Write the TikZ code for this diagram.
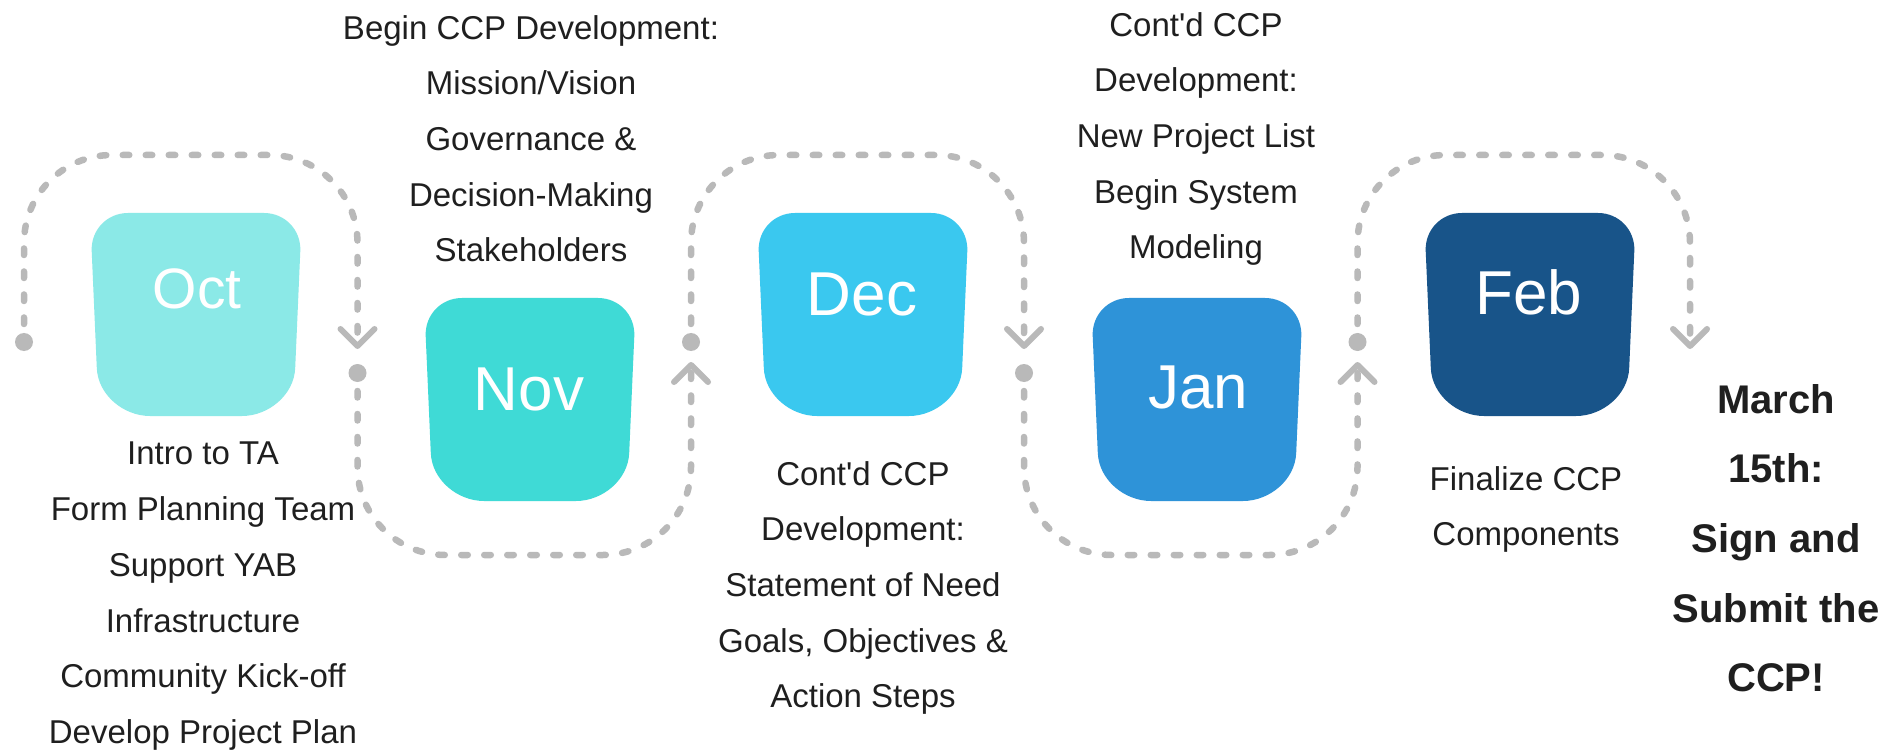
\documentclass[tikz,border=0pt]{standalone}
\usepackage{fontspec}
\setmainfont{Liberation Sans}
% same face without the TeX quote mapping, for a straight apostrophe
\newfontfamily\rawfont{Liberation Sans}
\usetikzlibrary{calc}

\definecolor{octc}{HTML}{8BE9E7}
\definecolor{novc}{HTML}{3FDAD6}
\definecolor{decc}{HTML}{3AC8EF}
\definecolor{janc}{HTML}{2E93D8}
\definecolor{febc}{HTML}{185489}
\definecolor{trailc}{HTML}{B9B9B9}
\definecolor{inkc}{HTML}{1F1F1F}

% straight apostrophe
\newcommand\sq{{\rawfont\symbol{39}}}

% tapered tile with rounded corners: #1 centre x, #2 top y, #3 colour
\newcommand\monthtile[3]{%
  \fill[#3] ({#1-104.3},{#2+38})
    .. controls ({#1-105.2},{#2+17}) and ({#1-89},{#2}) .. ({#1-68},{#2})
    -- ({#1+68},{#2})
    .. controls ({#1+89},{#2}) and ({#1+105.2},{#2+17}) .. ({#1+104.3},{#2+38})
    -- ({#1+99.2},{#2+155})
    .. controls ({#1+98.1},{#2+182}) and ({#1+72.4},{#2+203}) .. ({#1+46},{#2+203})
    -- ({#1-46},{#2+203})
    .. controls ({#1-72.4},{#2+203}) and ({#1-98.1},{#2+182}) .. ({#1-99.2},{#2+155})
    -- cycle;}

\tikzset{
  trail/.style={draw=trailc, line width=6.5pt, line cap=round,
    dash pattern=on 6.5pt off 16.5pt, rounded corners=88pt},
  chev/.style={draw=trailc, line width=6pt, line cap=round, line join=round},
  knob/.style={fill=trailc},
  mlabel/.style={text=white, inner sep=0pt},
  desc/.style={text=inkc, align=center, inner sep=0pt, anchor=north,
    font=\fontsize{33}{55.7}\selectfont},
  finale/.style={text=inkc, align=center, inner sep=0pt, anchor=north,
    font=\fontsize{40}{69.7}\selectfont\bfseries},
}

\begin{document}
\begin{tikzpicture}[x=1pt, y=-1pt]
\fill[white] (0,0) rectangle (1893,751);
\useasboundingbox (0,0) rectangle (1893,751);

% levels of the winding trail
\coordinate (top) at (0,155);
\coordinate (bottom) at (0,555);

% start dots and arrow tips
\coordinate (s1) at (24,342);
\coordinate (e1) at (357.5,346);
\coordinate (s2) at (357.5,373);
\coordinate (e2) at (691,365);
\coordinate (s3) at (691,342);
\coordinate (e3) at (1024,346);
\coordinate (s4) at (1024,373);
\coordinate (e4) at (1357.5,365);
\coordinate (s5) at (1357.5,342);
\coordinate (e5) at (1690,346);

% arches over the upper tiles
\foreach \s/\e in {s1/e1, s3/e3, s5/e5}{
  \draw[trail] ($(\s)+(0,-18)$) -- (\s |- top) -- (\e |- top) -- ($(\e)+(0,-8)$);
  \fill[knob] (\s) circle[radius=9];
  \draw[chev] ($(\e)+(-17,-17)$) -- (\e) -- ($(\e)+(17,-17)$);
}
% dips under the lower tiles
\foreach \s/\e in {s2/e2, s4/e4}{
  \draw[trail] ($(\s)+(0,18)$) -- (\s |- bottom) -- (\e |- bottom) -- ($(\e)+(0,8)$);
  \fill[knob] (\s) circle[radius=9];
  \draw[chev] ($(\e)+(-17,17)$) -- (\e) -- ($(\e)+(17,17)$);
}

% month tiles
\monthtile{196}{213}{octc}
\monthtile{530}{298}{novc}
\monthtile{863}{213}{decc}
\monthtile{1197}{298}{janc}
\monthtile{1530}{213}{febc}

\node[mlabel, font=\fontsize{57}{57}\selectfont] (oct) at (197,289) {Oct};
\node[mlabel, font=\fontsize{62}{62}\selectfont] (nov) at (529,389) {Nov};
\node[mlabel, font=\fontsize{62}{62}\selectfont] (dec) at (862,294) {Dec};
\node[mlabel, font=\fontsize{62}{62}\selectfont] (jan) at (1198,387) {Jan};
\node[mlabel, font=\fontsize{62}{62}\selectfont] (feb) at (1529,292) {Feb};

% task lists
\node[desc] (octnotes) at (203,442) {Intro to TA\\Form Planning Team\\Support YAB\\Infrastructure\\Community Kick-off\\Develop Project Plan};
\node[desc] (novnotes) at (531,15) {Begin CCP Development:\\Mission/Vision\\Governance \&\\Decision-Making\\Stakeholders};
\node[desc] (decnotes) at (863,461) {Cont\sq d CCP\\Development:\\Statement of Need\\Goals, Objectives \&\\Action Steps};
\node[desc] (jannotes) at (1196,12) {Cont\sq d CCP\\Development:\\New Project List\\Begin System\\Modeling};
\node[desc] (febnotes) at (1526,466) {Finalize CCP\\Components};
\node[finale] (deadline) at (1776,384) {March\\15th:\\Sign and\\Submit the\\CCP!};
\end{tikzpicture}
\end{document}
